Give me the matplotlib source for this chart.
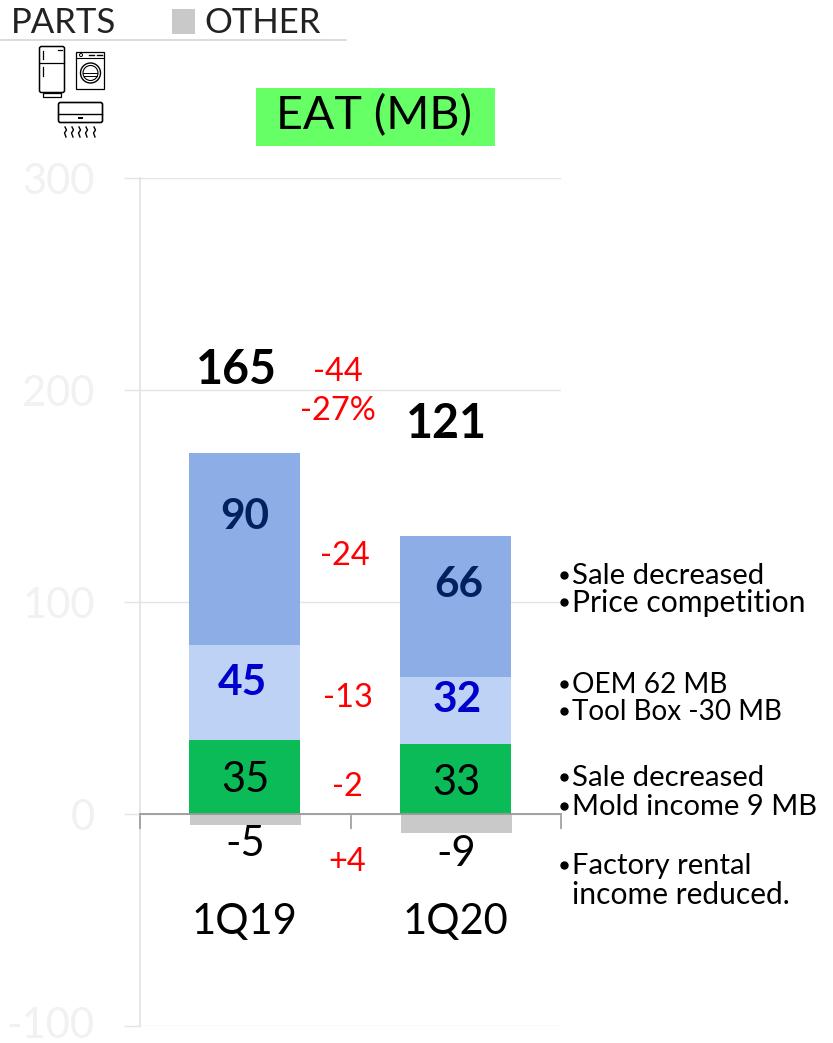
import numpy as np
import matplotlib
matplotlib.use("Agg")
import matplotlib.pyplot as plt
from matplotlib.patches import Rectangle, Circle, FancyBboxPatch
from matplotlib.transforms import Affine2D

plt.rcParams['font.family'] = ['Lato', 'DejaVu Sans']

W = 833
H = 1043

quarters = ['1Q19', '1Q20']
# bar heights as they are drawn in the picture, the printed labels are rounded differently
green_vals = [35, 33]
light_vals = [44.5, 31.6]
blue_vals = [90.6, 66.3]
other_vals = [-5, -9]
green_labels = ['35', '33']
light_labels = ['45', '32']
blue_labels = ['90', '66']
other_labels = ['-5', '-9']
total_labels = ['165', '121']
y_ticks = [-100, 0, 100, 200, 300]
delta_labels = ['-44', '-27%', '-24', '-13', '-2', '+4']
notes = ['Sale decreased', 'Price competition', 'OEM 62 MB', 'Tool Box -30 MB',
         'Sale decreased', 'Mold income 9 MB', 'Factory rental']
note_extra = 'income reduced.'

fig = plt.figure(figsize=(W/100, H/100), dpi=100)
ax = fig.add_axes([140/W, 1-1026/H, 421/W, 848/H])
ax.set_xlim(0, 2)
ax.set_ylim(-100, 300)

x = np.array([0.497, 1.5])
w = 0.526
green = np.array(green_vals)
light = np.array(light_vals)
blue = np.array(blue_vals)
ax.bar(x, green, w, color='#0abb58', zorder=2)
ax.bar(x, light, w, bottom=green, color='#bdd2f4', zorder=2)
ax.bar(x, blue, w, bottom=green+light, color='#8cadE6', zorder=2)
ax.bar(x + 0.003, other_vals, w, color='#c9c9c9', zorder=2)

# axis
for s in ['top', 'right']:
    ax.spines[s].set_visible(False)
ax.spines['left'].set_color('#e4e4e4')
ax.spines['left'].set_linewidth(1.3)
ax.spines['left'].set_zorder(0.5)
ax.spines['bottom'].set_position(('data', 0))
ax.spines['bottom'].set_color('#999999')
ax.spines['bottom'].set_linewidth(1.3)
ax.spines['bottom'].set_zorder(3)
ax.set_yticks(y_ticks)
ax.set_yticklabels([str(v) for v in y_ticks])
ax.tick_params(axis='y', length=11.5, width=1, color='#e4e4e4', labelcolor='#f1f1f1',
               labelsize=30, pad=21)
# lowest label would stick out of the figure box otherwise
low = ax.get_yticklabels()[0]
low.set_transform(low.get_transform() + Affine2D().translate(0, 4))
ax.grid(axis='y', color='#e4e4e4', lw=1, zorder=0)
ax.set_axisbelow(True)
ax.set_xticks([0, 1, 2])
ax.set_xticklabels([])
ax.tick_params(axis='x', which='major', length=11, width=1.2, color='#999999', direction='out')
ax.set_xticks(x, minor=True)
ax.set_xticklabels(quarters, minor=True)
ax.tick_params(axis='x', which='minor', length=0, labelsize=30, pad=64)

# overlay in pixels for the text and icons
ov = fig.add_axes([0, 0, 1, 1], facecolor='none')
ov.set_xlim(0, W)
ov.set_ylim(H, 0)
ov.axis('off')


def label(px, py, s, size, color='black', weight='normal', ha='center'):
    ov.text(px, py, s, fontsize=size, color=color, fontweight=weight, ha=ha, va='center')


# values on the bars
label(236, 370, total_labels[0], 33.5, weight='bold')
label(446, 424, total_labels[1], 33.5, weight='bold')
label(245, 517, blue_labels[0], 30.5, '#002060', 'bold')
label(459, 585, blue_labels[1], 30.5, '#002060', 'bold')
label(242, 683, light_labels[0], 30.5, '#0000cc', 'bold')
label(457, 700, light_labels[1], 30.5, '#0000cc', 'bold')
label(245, 780, green_labels[0], 30)
label(456, 783, green_labels[1], 30)
label(245, 844, other_labels[0], 30)
label(456, 854, other_labels[1], 30)

# differences
delta_xy = [(338, 372), (338, 411), (345, 556), (348, 698), (347, 787), (347, 862)]
for (px, py), s in zip(delta_xy, delta_labels):
    label(px, py, s, 23.5, 'red')

# notes on the right
note_y = [576, 603, 685, 712, 778, 807, 866]
note_size = [21.2, 21.7, 20.2, 20.1, 21.2, 21, 21]
for py, s, fs in zip(note_y, notes, note_size):
    ov.plot([564], [py-1], 'o', color='black', ms=5)
    label(572, py, s, fs, ha='left')
label(572, 895, note_extra, 21.6, ha='left')

# title
ov.add_patch(Rectangle((256, 88), 239, 58, color='#66ff66', lw=0))
label(374, 116, 'EAT (MB)', 33.5)

# legend strip
label(11, 23, 'PARTS', 25, '#222222', ha='left')
ov.add_patch(Rectangle((172, 9), 23, 25, color='#c9c9c9', lw=0))
label(204, 23, 'OTHER', 25, '#222222', ha='left')
ov.plot([0, 346], [40, 40], color='#d9d9d9', lw=1.3)

# fridge
ov.add_patch(FancyBboxPatch((39.5, 46.5), 25, 46, boxstyle='round,pad=0,rounding_size=2', fc='white', ec='black', lw=1.1))
ov.plot([40, 64], [63, 63], color='black', lw=0.9)
ov.plot([43, 43], [51, 59], color='black', lw=0.9)
ov.plot([43, 43], [67, 76], color='black', lw=0.9)
ov.plot([58, 62], [50, 50], color='black', lw=0.9)
ov.add_patch(Rectangle((43, 92.5), 18, 4, fc='white', ec='black', lw=0.9))
# washer
ov.add_patch(Rectangle((76.5, 51.5), 28, 37, fc='white', ec='black', lw=0.9))
ov.plot([76.5, 104.5], [58, 58], color='black', lw=0.8)
ov.add_patch(Circle((81, 55), 1.5, fc='white', ec='black', lw=0.7))
ov.plot([89, 94], [55, 55], color='black', lw=1)
ov.plot([97, 102], [55, 55], color='black', lw=1)
ov.add_patch(Circle((90.5, 73), 10, fc='white', ec='black', lw=1))
ov.add_patch(Circle((90.5, 73), 7.5, fc='white', ec='black', lw=0.8))
ov.plot([83.5, 97.5], [73, 73], color='black', lw=0.7)
ov.plot([84, 97], [76, 76], color='black', lw=0.7)
# air conditioner
ov.add_patch(FancyBboxPatch((58.5, 102.5), 44, 20, boxstyle='round,pad=0,rounding_size=2', fc='white', ec='black', lw=1.2))
ov.plot([59, 102], [114, 114], color='black', lw=1)
ov.plot([79, 82], [118, 118], color='black', lw=1.4)
for px in [65, 72, 79, 86, 94]:
    ov.plot([px, px+1.5, px-0.5, px+1], [127, 130, 133, 137], color='black', lw=1)

fig.savefig('out.png', dpi=100)
